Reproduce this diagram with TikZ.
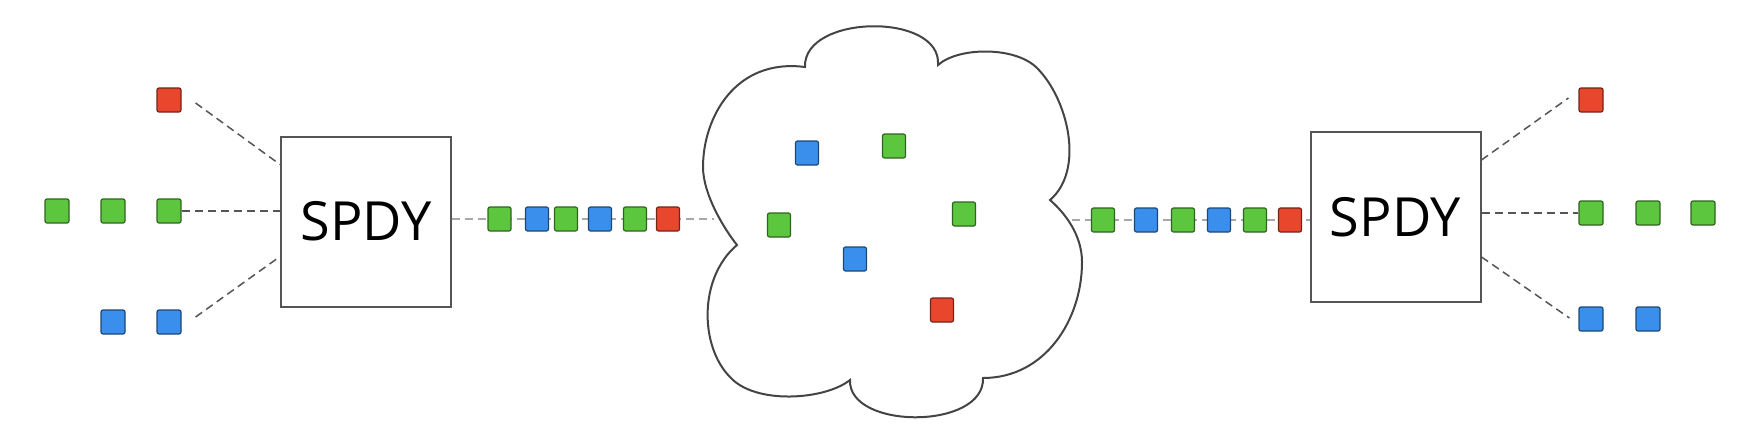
\documentclass[tikz,border=0pt]{standalone}
\usepackage{fontspec}
\setmainfont{Open Sans}
\usetikzlibrary{calc,backgrounds}
\definecolor{sqgreen}{HTML}{5DC63F}
\definecolor{sqblue}{HTML}{3A8FEC}
\definecolor{sqred}{HTML}{E8472E}
\definecolor{boxline}{HTML}{555555}
\definecolor{dashgrey}{HTML}{555555}
\definecolor{rowgrey}{HTML}{A8A8A8}
\definecolor{cloudgrey}{HTML}{444444}
\tikzset{
 pkt/.style={draw=#1!50!black, fill=#1, line width=0.6pt, rounded corners=1pt, minimum width=12pt, minimum height=12pt, inner sep=0pt},
 rowpkt/.style={pkt=#1, minimum width=11.5pt, minimum height=12pt},
 cldpkt/.style={pkt=#1, minimum width=11.5pt, minimum height=12pt},
 spdy/.style={draw=boxline, line width=1pt, fill=white, minimum width=85pt, minimum height=85pt, inner sep=0pt, font=\fontsize{27}{30}\selectfont},
 link/.style={draw=dashgrey, line width=0.75pt, dash pattern=on 4pt off 2.5pt},
 rowlink/.style={draw=rowgrey, line width=0.75pt, dash pattern=on 4pt off 2.5pt},
 cloudline/.style={draw=cloudgrey, line width=1pt, fill=white, line join=miter},
}
\begin{document}
\begin{tikzpicture}[x=0.5pt,y=-0.5pt]
\useasboundingbox (0,0) rectangle (1750,436);
% boxes
\node[spdy] (lbox) at (366,221.5) {\raisebox{-1.5pt}{SPDY}};
\node[spdy] (rbox) at (1395.5,217) {\raisebox{-1.5pt}{SPDY}};
% outer left packets
\node[pkt=sqred] (lr) at (169,100) {};
\node[pkt=sqgreen] (lg1) at (57,211) {};
\node[pkt=sqgreen] (lg2) at (113,211) {};
\node[pkt=sqgreen] (lg3) at (169,211) {};
\node[pkt=sqblue] (lb1) at (113,322) {};
\node[pkt=sqblue] (lb2) at (169,322) {};
% outer right packets
\node[pkt=sqred] (rr) at (1591,100) {};
\node[pkt=sqgreen] (rg1) at (1591,213) {};
\node[pkt=sqgreen] (rg2) at (1648,213) {};
\node[pkt=sqgreen] (rg3) at (1703,213) {};
\node[pkt=sqblue] (rb1) at (1591,319) {};
\node[pkt=sqblue] (rb2) at (1648,319) {};
% cloud
\draw[cloudline] (737,245)
 .. controls (725,230) and (703,195) .. (703,167)
 .. controls (703,118) and (735,58) .. (805,67)
 .. controls (803,14) and (942,12) .. (938,65)
 .. controls (958,47) and (1015,46) .. (1037,68)
 .. controls (1068,99) and (1085,170) .. (1050,200)
 .. controls (1065,213) and (1082,235) .. (1082,262)
 .. controls (1082,320) and (1045,378) .. (983,378)
 .. controls (985,430) and (848,430) .. (850,380)
 .. controls (825,400) and (755,405) .. (730,377)
 .. controls (700,347) and (698,278) .. cycle;
\coordinate (cloudL) at (714,220);
\coordinate (cloudR) at (1072,220);
% cloud packets
\node[cldpkt=sqblue] (c1) at (807,153) {};
\node[cldpkt=sqgreen] (c2) at (894,146) {};
\node[cldpkt=sqgreen] (c3) at (779,225) {};
\node[cldpkt=sqgreen] (c4) at (964,214) {};
\node[cldpkt=sqblue] (c5) at (855,259) {};
\node[cldpkt=sqred] (c6) at (942,310) {};
% left stream
\node[rowpkt=sqgreen] (a1) at (499.5,219) {};
\node[rowpkt=sqblue] (a2) at (537,219) {};
\node[rowpkt=sqgreen] (a3) at (566,219) {};
\node[rowpkt=sqblue] (a4) at (600,219) {};
\node[rowpkt=sqgreen] (a5) at (635,219) {};
\node[rowpkt=sqred] (a6) at (668,219) {};
% right stream
\node[rowpkt=sqgreen] (b1) at (1103,220) {};
\node[rowpkt=sqblue] (b2) at (1146,220) {};
\node[rowpkt=sqgreen] (b3) at (1183,220) {};
\node[rowpkt=sqblue] (b4) at (1219,220) {};
\node[rowpkt=sqgreen] (b5) at (1255,220) {};
\node[rowpkt=sqred] (b6) at (1290,220) {};
\begin{pgfonlayer}{background}
\draw[link] ($(lr.east)+(14,3)$) -- ($(lbox.west)+(0,-57)$);
\draw[link] (lg3.east) -- (lg3.east -| lbox.west);
\draw[link] ($(lb2.east)+(14,-5)$) -- ($(lbox.west)+(0,35)$);
\draw[link] ($(rbox.east)+(0,-57)$) -- ($(rr.west)+(-10,-2)$);
\draw[link] (rg1.west -| rbox.east) -- (rg1.west);
\draw[link] ($(rbox.east)+(0,40)$) -- ($(rb1.west)+(-9,-1)$);
\draw[rowlink] (lbox.east |- a1) -- (cloudL |- a1);
\draw[rowlink] (cloudR) -- (cloudR -| rbox.west);
\end{pgfonlayer}
\end{tikzpicture}
\end{document}
